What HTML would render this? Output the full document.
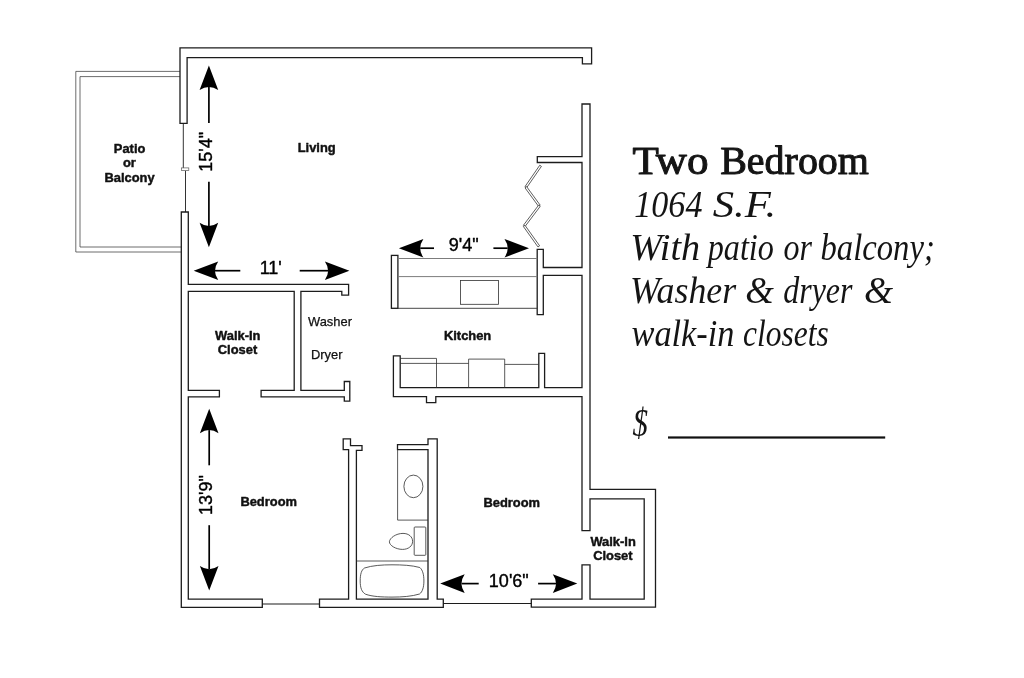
<!DOCTYPE html>
<html lang="en"><head><meta charset="utf-8"><title>Two Bedroom Floor Plan</title>
<style>
html,body{margin:0;padding:0;background:#fff;}
body{width:1024px;height:678px;overflow:hidden;position:relative;}
svg{position:absolute;left:0;top:0;display:block;filter:grayscale(1);}
.wall polygon,.wall rect{fill:#fff;stroke:#1c1c1c;stroke-width:1.3;stroke-linejoin:miter;}
.thin *{fill:none;stroke:#303030;stroke-width:0.8;}
.gray *{fill:none;stroke:#7c7c7c;stroke-width:1.0;}
.patio *{fill:none;stroke:#3c3c3c;stroke-width:0.75;}
.arr line{stroke:#000;stroke-width:1.7;}
.arr path{fill:#000;stroke:none;}
.lbl text{font-family:"Liberation Sans",Arial,Helvetica,sans-serif;font-weight:bold;font-size:12.9px;fill:#111;stroke:#111;stroke-width:0.45;stroke-linejoin:round;text-anchor:middle;}
.reg text{font-family:"Liberation Sans",Arial,Helvetica,sans-serif;font-size:12.9px;fill:#111;stroke:#111;stroke-width:0.25;}
.dim text{font-family:"Liberation Sans",Arial,Helvetica,sans-serif;font-size:18.0px;fill:#000;stroke:#000;stroke-width:0.4;stroke-linejoin:round;text-anchor:middle;}
.ser text{font-family:"Liberation Serif","Times New Roman",serif;font-size:42px;fill:#141414;}
</style></head><body>
<svg width="1024" height="678" viewBox="0 0 1024 678">
<rect x="0" y="0" width="1024" height="678" fill="#fff"/>
<g class="patio">
<polyline points="180,71.4 75.8,71.4 75.8,252 181.2,252"/>
<polyline points="180,76.6 80,76.6 80,247 181.2,247"/>
</g>
<g class="wall">
<polygon points="180,47.8 591.6,47.8 591.6,63.9 582.4,63.9 582.4,57.7 187.1,57.7 187.1,123.3 180,123.3"/>
<polygon points="181.3,212 188.3,212 188.3,284.4 348.6,284.4 348.6,295.1 341.8,295.1 341.8,291.4 300.9,291.4 300.9,390.4 344.3,390.4 344.3,381.5 349.8,381.5 349.8,401.2 344.3,401.2 344.3,396.8 261.1,396.8 261.1,390.4 294.2,390.4 294.2,291.4 188.3,291.4 188.3,390.4 219.4,390.4 219.4,396.8 188.3,396.8 188.3,599.1 262.3,599.1 262.3,607.4 181.3,607.4"/>
<polygon points="319.5,607.4 319.5,599.1 348.6,599.1 348.6,449.7 343.2,449.7 343.2,438.8 350.5,438.8 350.5,445.7 362,445.7 362,450.3 356.4,450.3 356.4,599.1 428.0,599.1 428.0,449.7 397.5,449.7 397.5,444.7 428.0,444.7 428.0,438.8 437.2,438.8 437.2,599.1 443.3,599.1 443.3,607.4"/>
<polygon points="582.0,104 590.0,104 590.0,489.4 655.5,489.4 655.5,607.2 531.3,607.2 531.3,599.2 582.0,599.2 582.0,564.8 590.0,564.8 590.0,599.2 644.2,599.2 644.2,498.9 590.0,498.9 590.0,530.7 582.0,530.7 582.0,396.7 435.8,396.7 435.8,402.7 426.5,402.7 426.5,396.7 393.4,396.7 393.4,355.8 400.2,355.8 400.2,387.7 538.8,387.7 538.8,353.3 544.6,353.3 544.6,387.7 582.0,387.7 582.0,275.3 543.3,275.3 543.3,314.6 537.2,314.6 537.2,249.4 543.3,249.4 543.3,267.5 582.0,267.5 582.0,162.5 537.3,162.5 537.3,156.6 582.0,156.6"/>
<rect x="391.4" y="255.4" width="6.5" height="52.9"/>
</g>
<g class="gray">
<line x1="397.9" y1="258.5" x2="537.2" y2="258.5"/>
<line x1="397.9" y1="276.6" x2="537.2" y2="276.6"/>
</g>
<g class="thin">
<line x1="397.9" y1="308.3" x2="537.2" y2="308.3" style="stroke:#333;stroke-width:0.9"/>
<rect x="460.4" y="280.4" width="38.1" height="23.9"/>
<polyline points="400.2,358.4 436.5,358.4 436.5,387.7"/>
<line x1="400.2" y1="363.4" x2="468.6" y2="363.4"/>
<polyline points="468.6,387.7 468.6,359.1 504.7,359.1 504.7,387.7"/>
<line x1="504.7" y1="364.4" x2="538.8" y2="364.4"/>
<line x1="183.3" y1="123.3" x2="183.3" y2="168" style="stroke:#1c1c1c;stroke-width:0.9"/>
<line x1="185.5" y1="170.6" x2="185.5" y2="212" style="stroke:#1c1c1c;stroke-width:0.9"/>
<rect x="181.6" y="167.9" width="7.2" height="2.7" style="fill:#fff;stroke:#5a5a5a;stroke-width:0.7"/>
<line x1="262.3" y1="604" x2="319.5" y2="604" style="stroke:#1c1c1c;stroke-width:1.2"/>
<line x1="443.3" y1="603.5" x2="531.3" y2="603.5" style="stroke:#1c1c1c;stroke-width:1.2"/>
<polyline points="397.6,449.7 397.6,520.1 428,520.1"/>
<ellipse cx="413.4" cy="486.4" rx="9.5" ry="11.3"/>
<rect x="414.2" y="527" width="11.6" height="28.3" rx="0.8"/>
<path d="M389.4,541.8 C389.6,538 396,533.4 403,533.4 C409,533.4 412.6,537 412.6,541.3 C412.6,546 408.5,549.4 402.5,549.4 C396,549.4 389.4,545.5 389.4,541.8 Z"/>
<line x1="356.4" y1="561" x2="428" y2="561"/>
<path d="M360.2,581 C360.2,574 361.5,569.8 364.5,568 C372,565.5 382,564.8 392,564.8 C402,564.8 412,565.3 419.8,567.5 C422.8,570 423.9,575 423.9,581 C423.9,587 422.5,592 419.5,594 C412,596.4 402,597.1 392,597.1 C382,597.1 372,596.6 365.5,594.2 C361.8,592 360.2,588 360.2,581 Z"/>
</g>
<g class="thin">
<polygon points="539.78,165.23 524.98,186.63 526.62,187.77 541.42,166.37" style="fill:#fff;stroke:#2a2a2a;stroke-width:0.75"/>
<polygon points="524.99,187.79 538.59,206.39 540.21,205.21 526.61,186.61" style="fill:#fff;stroke:#2a2a2a;stroke-width:0.75"/>
<polygon points="538.60,205.20 523.40,225.30 525.00,226.50 540.20,206.40" style="fill:#fff;stroke:#2a2a2a;stroke-width:0.75"/>
<polygon points="523.39,226.48 537.99,246.98 539.61,245.82 525.01,225.32" style="fill:#fff;stroke:#2a2a2a;stroke-width:0.75"/>
</g>
<g class="arr">
<path d="M208.90,65.60 L218.20,90.10 Q208.90,83.70 199.60,90.10 Z"/><line x1="208.9" y1="123.0" x2="208.90" y2="86.90"/>
<path d="M208.90,247.30 L199.60,222.80 Q208.90,229.20 218.20,222.80 Z"/><line x1="208.9" y1="181.8" x2="208.90" y2="226.00"/>
<path d="M193.70,270.70 L218.20,261.40 Q211.80,270.70 218.20,280.00 Z"/><line x1="240.3" y1="270.7" x2="215.00" y2="270.70"/>
<path d="M349.40,270.70 L324.90,280.00 Q331.30,270.70 324.90,261.40 Z"/><line x1="299.7" y1="270.7" x2="328.10" y2="270.70"/>
<path d="M398.90,248.20 L423.40,238.90 Q417.00,248.20 423.40,257.50 Z"/><line x1="434" y1="248.2" x2="420.20" y2="248.20"/>
<path d="M529.00,248.20 L504.50,257.50 Q510.90,248.20 504.50,238.90 Z"/><line x1="493.4" y1="248.2" x2="507.70" y2="248.20"/>
<path d="M209.20,408.80 L218.50,433.30 Q209.20,426.90 199.90,433.30 Z"/><line x1="209.2" y1="465.3" x2="209.20" y2="430.10"/>
<path d="M209.20,590.60 L199.90,566.10 Q209.20,572.50 218.50,566.10 Z"/><line x1="209.2" y1="525.2" x2="209.20" y2="569.30"/>
<path d="M440.20,583.60 L464.70,574.30 Q458.30,583.60 464.70,592.90 Z"/><line x1="478.7" y1="583.6" x2="461.50" y2="583.60"/>
<path d="M577.30,583.60 L552.80,592.90 Q559.20,583.60 552.80,574.30 Z"/><line x1="538.1" y1="583.6" x2="556.00" y2="583.60"/>
</g>
<g class="dim">
<text x="270.7" y="273.6">11'</text>
<text x="463.7" y="251">9'4"</text>
<text x="508.8" y="587">10'6"</text>
<text transform="translate(211.9,151.8) rotate(-90)" x="0" y="0">15'4"</text>
<text transform="translate(212.4,495) rotate(-90)" x="0" y="0">13'9"</text>
</g>
<g class="lbl">
<text x="129.6" y="152.8">Patio</text>
<text x="129.4" y="167.4">or</text>
<text x="129.6" y="181.7">Balcony</text>
<text x="316.7" y="151.8">Living</text>
<text x="237.8" y="339.8">Walk-In</text>
<text x="237.5" y="354.1">Closet</text>
<text x="467.6" y="340">Kitchen</text>
<text x="268.7" y="505.8">Bedroom</text>
<text x="511.8" y="506.6">Bedroom</text>
<text x="613.1" y="545.8">Walk-In</text>
<text x="612.9" y="559.8">Closet</text>
</g>
<g class="reg">
<text x="308" y="326">Washer</text>
<text x="311" y="358.6">Dryer</text>
</g>
<g class="ser">
<text transform="translate(632.51,173.8) scale(1.0779,1)" style="font-size:40px" stroke="#141414" stroke-width="1.0" stroke-linejoin="round">Two</text>
<text transform="translate(720.16,173.8) scale(0.9998,1)" style="font-size:40px" stroke="#141414" stroke-width="1.0" stroke-linejoin="round">Bedroom</text>
<text transform="translate(634.31,217.0) scale(0.8964,1)" style="font-size:38px" font-style="italic">1064</text>
<text transform="translate(712.75,217.0) scale(1.1249,1)" style="font-size:38px" font-style="italic">S.F.</text>
<text transform="translate(630.16,259.8) scale(1.0049,1)" style="font-size:38px" font-style="italic">With</text>
<text transform="translate(707.72,259.8) scale(0.8473,1)" style="font-size:38px" font-style="italic">patio</text>
<text transform="translate(783.4,259.8) scale(0.8435,1)" style="font-size:38px" font-style="italic">or</text>
<text transform="translate(820.52,259.8) scale(0.8597,1)" style="font-size:38px" font-style="italic">balcony;</text>
<text transform="translate(630.08,302.8) scale(0.9423,1)" style="font-size:38px" font-style="italic">Washer</text>
<text transform="translate(745.32,302.8) scale(0.9683,1)" style="font-size:38px" font-style="italic">&amp;</text>
<text transform="translate(783.23,302.8) scale(0.8421,1)" style="font-size:38px" font-style="italic">dryer</text>
<text transform="translate(863.94,302.8) scale(0.9843,1)" style="font-size:38px" font-style="italic">&amp;</text>
<text transform="translate(631.47,346.0) scale(0.9041,1)" style="font-size:38px" font-style="italic">walk-in</text>
<text transform="translate(743.07,346.0) scale(0.8289,1)" style="font-size:38px" font-style="italic">closets</text>
<text transform="translate(632.54,436.0) scale(0.8142,1.07)" style="font-size:38px" font-style="italic">$</text>
</g>
<rect x="668" y="436.4" width="217.2" height="2.2" fill="#111"/>
</svg></body></html>
